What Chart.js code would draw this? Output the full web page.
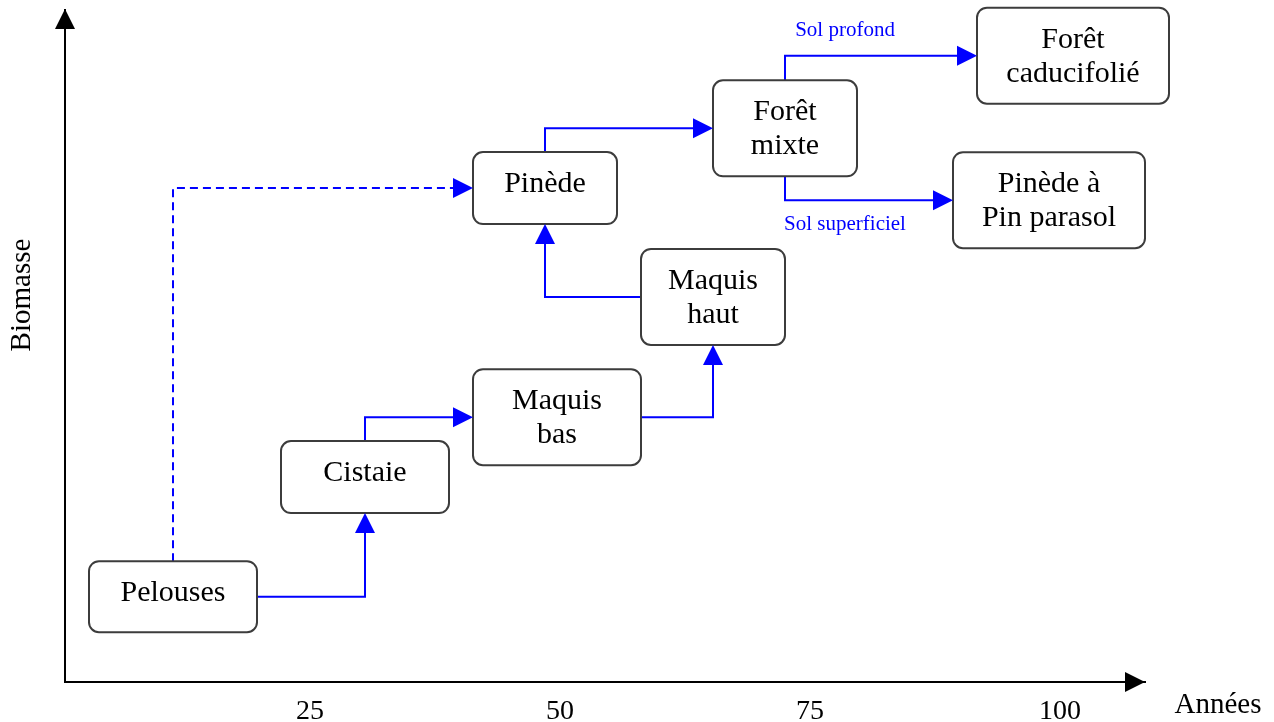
<!DOCTYPE html>
<html>
<head>
<meta charset="utf-8">
<script src="https://cdn.jsdelivr.net/npm/chart.js@4.4.1/dist/chart.umd.min.js"></script>
<style>
  html, body { margin: 0; padding: 0; background: #fff; }
  #wrap { width: 1274px; height: 722px; }
</style>
</head>
<body>
<div id="wrap"><canvas id="succession"></canvas></div>
<script>
// stages of the succession, placed by years (x) and biomass (y, arbitrary 0-100)
var stages = ["Pelouses", "Cistaie", "Maquis\nbas", "Maquis\nhaut", "Pinède", "Forêt\nmixte", "Forêt\ncaducifolié", "Pinède à\nPin parasol"];
var stageYears = [11.3, 30.5, 49.7, 65.3, 48.5, 72.5, 101.3, 98.9];
var stageBiomass = [12.7, 30.5, 39.4, 57.3, 73.5, 82.4, 93.2, 71.7];
var yearTicks = [25, 50, 75, 100];

// transitions: [from, to], the way the connector turns, and its caption
var links = [[0, 1], [0, 4], [1, 2], [2, 3], [3, 4], [4, 5], [5, 6], [5, 7]];
var linkRoutes = ["hv", "vh", "vh", "hv", "hv", "vh", "vh", "vh"];
var linkLabels = ["", "", "", "", "", "", "Sol profond", "Sol superficiel"];

// look of the drawing
var FONT = "'Liberation Serif', serif";
var BLUE = "#0000ff";
var boxW = [168, 168, 168, 144, 144, 144, 192, 192];
var boxH = [71, 72, 96, 96, 72, 96, 96, 96];
var dashedLinks = [1];

function arrowHead(ctx, x, y, dir, color) {
  var len = 20, half = 10;
  ctx.save();
  ctx.translate(x, y);
  ctx.rotate(dir);
  ctx.beginPath();
  ctx.moveTo(0, 0);
  ctx.lineTo(-len, -half);
  ctx.lineTo(-len, half);
  ctx.closePath();
  ctx.fillStyle = color;
  ctx.fill();
  ctx.restore();
}

function boxOf(pts, i) {
  var cx = pts[i].x, cy = pts[i].y;
  return { cx: cx, cy: cy, l: cx - boxW[i] / 2, r: cx + boxW[i] / 2, t: cy - boxH[i] / 2, b: cy + boxH[i] / 2 };
}

var diagramPlugin = {
  id: "diagram",
  afterDatasetsDraw: function (chart) {
    var ctx = chart.ctx, area = chart.chartArea;
    var pts = chart.getDatasetMeta(0).data;
    var heads = [];

    // connectors
    links.forEach(function (lk, k) {
      var a = boxOf(pts, lk[0]), b = boxOf(pts, lk[1]);
      var path, head;
      if (linkRoutes[k] === "hv") {
        var sx = b.cx > a.cx ? a.r : a.l;
        var ey = b.cy < a.cy ? b.b : b.t;
        path = [[sx, a.cy], [b.cx, a.cy], [b.cx, ey]];
        head = [b.cx, ey, b.cy < a.cy ? -Math.PI / 2 : Math.PI / 2];
      } else {
        var sy = b.cy < a.cy ? a.t : a.b;
        var ex = b.cx > a.cx ? b.l : b.r;
        path = [[a.cx, sy], [a.cx, b.cy], [ex, b.cy]];
        head = [ex, b.cy, b.cx > a.cx ? 0 : Math.PI];
      }
      ctx.save();
      ctx.strokeStyle = BLUE;
      ctx.lineWidth = 2;
      if (dashedLinks.indexOf(k) >= 0) ctx.setLineDash([8, 5]);
      ctx.beginPath();
      ctx.moveTo(path[0][0], path[0][1]);
      ctx.lineTo(path[1][0], path[1][1]);
      // stop the shaft where the arrow head starts
      var dx = head[0] - path[1][0], dy = head[1] - path[1][1];
      var d = Math.sqrt(dx * dx + dy * dy) || 1;
      ctx.lineTo(head[0] - dx / d * 12, head[1] - dy / d * 12);
      ctx.stroke();
      ctx.restore();
      heads.push(head);

      if (linkLabels[k]) {
        ctx.save();
        ctx.font = "21px " + FONT;
        ctx.fillStyle = BLUE;
        ctx.textAlign = "center";
        ctx.textBaseline = "middle";
        var up = b.cy < a.cy;
        ctx.fillText(linkLabels[k], a.cx + 60, b.cy + (up ? -25 : 24));
        ctx.restore();
      }
    });

    // boxes
    stages.forEach(function (name, i) {
      var bx = boxOf(pts, i);
      ctx.save();
      ctx.beginPath();
      ctx.roundRect(bx.l, bx.t, boxW[i], boxH[i], 10);
      ctx.fillStyle = "#ffffff";
      ctx.fill();
      ctx.lineWidth = 2;
      ctx.strokeStyle = "#3c3c3c";
      ctx.stroke();
      ctx.font = "30px " + FONT;
      ctx.fillStyle = "#000";
      ctx.textAlign = "center";
      ctx.textBaseline = "middle";
      var lines = name.split("\n");
      var lh = 34;
      var shift = lines.length === 1 ? -4 : 1;
      lines.forEach(function (ln, j) {
        ctx.fillText(ln, bx.cx, bx.cy + shift + (j - (lines.length - 1) / 2) * lh);
      });
      ctx.restore();
    });

    heads.forEach(function (h) { arrowHead(ctx, h[0], h[1], h[2], BLUE); });

    // axis arrows and titles
    arrowHead(ctx, area.left, area.top - 1, -Math.PI / 2, "#000");
    arrowHead(ctx, area.right, area.bottom, 0, "#000");
    ctx.save();
    ctx.font = "29px " + FONT;
    ctx.fillStyle = "#000";
    ctx.textAlign = "center";
    ctx.textBaseline = "middle";
    ctx.fillText("Années", area.right + 73, area.bottom + 23);
    ctx.translate(22, 295);
    ctx.rotate(-Math.PI / 2);
    ctx.fillText("Biomasse", 0, 0);
    ctx.restore();
  }
};

new Chart(document.getElementById("succession"), {
  type: "scatter",
  data: {
    datasets: [{
      label: "Stades",
      data: stageYears.map(function (x, i) { return { x: x, y: stageBiomass[i] }; }),
      pointRadius: 0,
      pointHoverRadius: 0
    }]
  },
  options: {
    responsive: true,
    maintainAspectRatio: false,
    animation: false,
    layout: { padding: { top: 10, right: 129, left: 0, bottom: 0 } },
    plugins: { legend: { display: false }, tooltip: { enabled: false } },
    scales: {
      x: {
        type: "linear",
        min: 0.5,
        max: 108.5,
        afterBuildTicks: function (scale) {
          scale.ticks = yearTicks.map(function (v) { return { value: v }; });
        },
        afterFit: function (scale) { scale.height = 40; },
        grid: { display: false },
        border: { display: true, color: "#000", width: 2 },
        ticks: { color: "#000", padding: 5, font: { family: FONT, size: 28 } }
      },
      y: {
        min: 0,
        max: 100,
        afterFit: function (scale) { scale.width = 65; },
        grid: { display: false },
        border: { display: true, color: "#000", width: 2 },
        ticks: { display: false }
      }
    }
  },
  plugins: [diagramPlugin]
});
</script>
</body>
</html>
